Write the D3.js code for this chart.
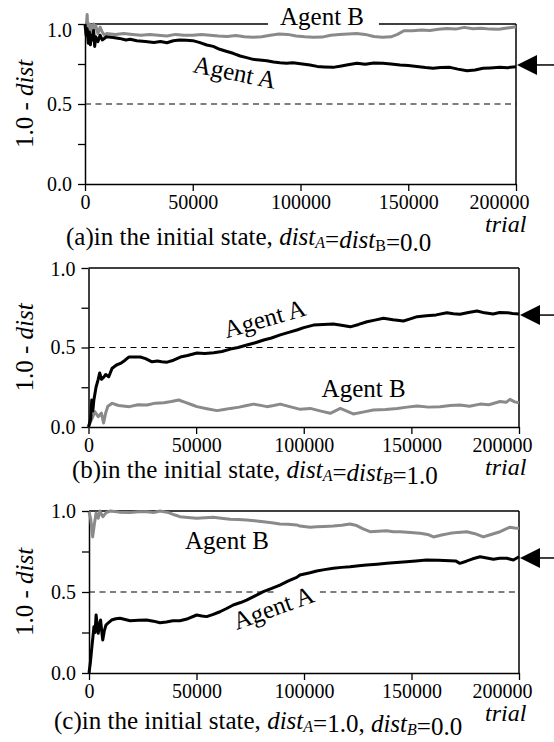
<!DOCTYPE html>
<html lang="en">
<head>
<meta charset="UTF-8">
<title>Agent distance over trials</title>
<script src="https://cdn.jsdelivr.net/npm/d3@7"></script>
<style>
  body { margin: 0; background: #fff; }
  svg { font-family: 'Liberation Serif', 'DejaVu Serif', serif; }
  svg text { font-family: 'Liberation Serif', 'DejaVu Serif', serif; fill: #000; }
</style>
</head>
<body>
<script>
// ---- data: [trial, 1.0 - dist] ----
const xTicks = [0, 50000, 100000, 150000, 200000]
const yTicks = [0, 0.25, 0.5, 0.75, 1.0]

const aAgentA = [[0,1.0],[500,0.93],[1000,0.97],[1500,0.88],[2000,0.95],[2500,0.87],[3000,0.93],[3500,0.90],[4000,0.96],[4500,0.86],[5000,0.92],[6000,0.89],[7000,0.93],[8000,0.90],[10000,0.92],[13000,0.915],[16000,0.91],[19000,0.9],[21000,0.905],[24000,0.895],[28000,0.89],[32000,0.885],[35000,0.89],[38000,0.883],[41000,0.895],[44000,0.90],[47000,0.898],[50000,0.896],[53000,0.885],[56500,0.869],[59500,0.86],[62500,0.842],[65500,0.83],[68700,0.817],[72000,0.8],[75000,0.79],[78000,0.779],[81000,0.775],[84400,0.77],[87500,0.762],[90500,0.758],[93500,0.755],[96500,0.758],[100000,0.752],[104400,0.744],[107700,0.735],[111000,0.732],[115100,0.729],[119000,0.738],[122000,0.745],[126200,0.755],[130000,0.748],[134000,0.756],[138300,0.754],[142000,0.75],[146200,0.744],[150000,0.74],[154000,0.735],[158000,0.728],[161500,0.723],[165000,0.728],[169400,0.729],[173000,0.718],[177300,0.708],[181000,0.712],[184700,0.723],[188000,0.725],[192600,0.729],[196000,0.727],[200000,0.733]]
const aAgentB = [[0,1.0],[500,0.97],[1000,1.06],[1300,0.96],[2000,1.0],[2500,0.94],[3000,0.99],[3500,0.95],[4000,1.0],[4500,0.97],[5000,0.99],[6000,0.94],[7000,0.98],[8000,0.95],[9000,0.93],[10000,0.94],[14000,0.935],[18000,0.94],[22000,0.935],[26000,0.93],[30000,0.935],[34000,0.93],[38000,0.925],[42000,0.935],[46000,0.93],[50000,0.93],[54000,0.935],[58000,0.93],[62000,0.925],[66000,0.922],[70000,0.928],[74000,0.92],[78000,0.917],[82000,0.92],[86000,0.93],[90000,0.9375],[94000,0.935],[98000,0.925],[102000,0.92],[106000,0.917],[110000,0.918],[114000,0.93],[118000,0.935],[122000,0.9375],[126000,0.94],[130000,0.935],[134000,0.922],[138000,0.917],[142000,0.92],[145000,0.935],[148000,0.958],[152000,0.958],[156000,0.962],[160000,0.96],[164000,0.967],[168000,0.972],[172000,0.968],[176000,0.979],[180000,0.97],[184000,0.973],[188000,0.968],[192000,0.967],[196000,0.975],[200000,0.983]]

const bAgentA = [[0,0],[1000,0.05],[1500,0.17],[2000,0.10],[2500,0.17],[3500,0.25],[4500,0.30],[5200,0.34],[6000,0.30],[7100,0.314],[8000,0.33],[9400,0.316],[11000,0.37],[13000,0.39],[14850,0.40],[17000,0.42],[18700,0.44],[21000,0.44],[24100,0.44],[26500,0.43],[29500,0.41],[32000,0.415],[34000,0.41],[36500,0.408],[39500,0.42],[42700,0.44],[46000,0.45],[50400,0.465],[54000,0.462],[58200,0.467],[62000,0.475],[65900,0.49],[69500,0.5],[73600,0.516],[77500,0.53],[81400,0.547],[85000,0.56],[89100,0.579],[93000,0.595],[96800,0.61],[100000,0.625],[104500,0.641],[109000,0.645],[113700,0.648],[117500,0.64],[121600,0.63],[125500,0.645],[129400,0.662],[133000,0.672],[137000,0.684],[141500,0.675],[146300,0.667],[149500,0.68],[152700,0.694],[157000,0.70],[161500,0.705],[166500,0.719],[169500,0.712],[172600,0.709],[176500,0.72],[180500,0.73],[184000,0.718],[188000,0.711],[191000,0.72],[194500,0.719],[197000,0.714],[200000,0.711]]
const bAgentB = [[0,0],[1500,0.05],[3000,0.096],[4500,0.065],[6000,0.088],[7000,0.025],[8000,0.09],[9000,0.13],[11000,0.149],[14000,0.135],[19000,0.128],[23000,0.14],[27200,0.138],[31000,0.15],[35000,0.153],[38500,0.16],[41900,0.17],[45000,0.155],[48000,0.14],[50400,0.128],[55000,0.115],[59700,0.103],[63000,0.11],[65900,0.117],[70000,0.125],[73500,0.135],[76700,0.144],[80000,0.136],[82900,0.128],[86000,0.135],[89100,0.144],[93000,0.13],[98400,0.111],[103000,0.117],[108000,0.1],[112300,0.086],[117000,0.117],[120000,0.1],[123000,0.082],[128000,0.095],[132300,0.107],[138000,0.11],[143400,0.117],[148000,0.125],[152700,0.132],[158000,0.125],[163300,0.128],[168000,0.135],[172600,0.138],[177000,0.13],[181900,0.144],[186000,0.14],[191200,0.16],[194000,0.155],[195800,0.174],[198000,0.158],[200000,0.153]]

const cAgentA = [[0,0],[600,0.06],[1200,0.142],[1800,0.22],[2300,0.286],[2800,0.25],[3300,0.358],[3800,0.30],[4300,0.245],[4900,0.30],[5400,0.327],[5900,0.26],[6400,0.204],[7100,0.26],[7900,0.296],[9000,0.31],[10500,0.327],[12500,0.335],[14400,0.338],[16800,0.33],[19100,0.323],[23000,0.326],[26800,0.327],[30000,0.32],[33000,0.31],[36000,0.315],[39000,0.322],[42300,0.323],[46000,0.335],[50100,0.358],[52500,0.352],[54700,0.348],[57500,0.36],[60900,0.378],[64000,0.398],[67100,0.42],[70500,0.435],[73300,0.45],[77000,0.475],[81100,0.502],[85000,0.522],[88800,0.543],[92500,0.567],[96600,0.59],[98100,0.605],[102800,0.619],[105900,0.63],[109500,0.638],[113600,0.646],[117500,0.652],[121400,0.656],[125500,0.662],[129100,0.667],[134000,0.672],[138500,0.677],[143000,0.682],[147700,0.687],[152000,0.692],[157000,0.698],[162500,0.696],[167900,0.693],[170500,0.692],[172500,0.677],[175500,0.69],[178500,0.705],[181900,0.718],[185000,0.71],[188100,0.702],[191000,0.708],[194300,0.708],[197400,0.698],[200000,0.718]]
const cAgentB = [[0,0.996],[800,0.95],[1700,0.84],[2500,0.92],[3300,0.987],[4000,0.97],[4300,0.955],[5000,1.0],[6000,0.975],[6500,0.965],[8000,0.99],[10000,1.0],[14000,0.993],[19000,0.99],[23000,0.995],[27000,0.996],[30000,0.99],[33000,1.0],[37000,0.99],[40000,0.975],[42300,0.965],[46000,0.96],[50100,0.955],[54000,0.958],[57800,0.961],[61500,0.955],[65600,0.949],[69500,0.947],[73300,0.944],[77000,0.94],[81100,0.934],[85000,0.928],[88800,0.92],[92500,0.918],[96600,0.914],[98100,0.907],[102800,0.9],[105900,0.903],[109500,0.905],[113600,0.907],[117500,0.912],[121400,0.92],[124500,0.91],[127500,0.89],[130700,0.872],[134500,0.875],[138500,0.878],[141500,0.872],[144700,0.872],[149500,0.868],[154000,0.862],[157500,0.855],[160200,0.84],[164000,0.852],[167900,0.862],[171500,0.868],[175700,0.872],[179500,0.86],[183400,0.84],[187000,0.855],[191200,0.872],[195800,0.9],[198000,0.895],[200000,0.893]]

// arrow marks on the right edge (1.0 - dist level)
const arrowValues = [0.744, 0.704, 0.71]

// ---- layout ----
const W = 554, H = 742
const FONT = "'Liberation Serif', 'DejaVu Serif', serif"
const panels = [
  { id: 'a', A: aAgentA, B: aAgentB, arrow: arrowValues[0],
    x0: 85, x1: 516, yTop: 24, yBot: 184, openTop: [84900, 136400], topLabelDy: 6,
    labA: { t: 49650, v: 0.70, rot: 11.6 }, labB: { t: 90500, v: 0.994, rot: 0 },
    dashGap: null, capX: 66, capY: 245,
    cap: ['(a)in the initial state, ', ['dist', 'A', true], '=', ['dist', 'B', false], '=0.0'] },
  { id: 'b', A: bAgentA, B: bAgentB, arrow: arrowValues[1],
    x0: 88.5, x1: 519, yTop: 268, yBot: 427, openTop: null, topLabelDy: 1,
    labA: { t: 64150, v: 0.558, rot: -16 }, labB: { t: 108300, v: 0.19, rot: 0 },
    dashGap: null, capX: 72, capY: 478,
    cap: ['(b)in the initial state, ', ['dist', 'A', true], '=', ['dist', 'B', true], '=1.0'] },
  { id: 'c', A: cAgentA, B: cAgentB, arrow: arrowValues[2],
    x0: 89, x1: 519, yTop: 511, yBot: 673, openTop: null, topLabelDy: 0,
    labA: { t: 68700, v: 0.265, rot: -20 }, labB: { t: 44650, v: 0.765, rot: 0 },
    dashGap: [87400, 107400], capX: 54, capY: 729,
    cap: ['(c)in the initial state, ', ['dist', 'A', true], '=1.0, ', ['dist', 'B', true], '=0.0'] }
]

const svg = d3.select('body').append('svg')
  .attr('width', W).attr('height', H)
  .attr('font-family', FONT)

panels.forEach(p => {
  const x = d3.scaleLinear().domain([0, 200000]).range([p.x0, p.x1])
  const y = d3.scaleLinear().domain([0, 1]).range([p.yBot, p.yTop])
  const g = svg.append('g').attr('class', 'panel-' + p.id)

  // dashed reference at 0.5
  const dashSegs = p.dashGap ? [[0, p.dashGap[0]], [p.dashGap[1], 200000]] : [[0, 200000]]
  dashSegs.forEach(s => {
    g.append('line')
      .attr('x1', x(s[0])).attr('x2', x(s[1]))
      .attr('y1', y(0.5)).attr('y2', y(0.5))
      .attr('stroke', '#000').attr('stroke-width', 1.1)
      .attr('stroke-dasharray', '6,4.5')
  })

  // frame: top and right edges
  const topSegs = p.openTop ? [[0, p.openTop[0]], [p.openTop[1], 200000]] : [[0, 200000]]
  topSegs.forEach(s => {
    g.append('line')
      .attr('x1', x(s[0])).attr('x2', x(s[1]))
      .attr('y1', y(1)).attr('y2', y(1))
      .attr('stroke', '#000').attr('stroke-width', 1.5)
  })
  g.append('line')
    .attr('x1', x(200000)).attr('x2', x(200000))
    .attr('y1', y(1)).attr('y2', y(0))
    .attr('stroke', '#000').attr('stroke-width', 1.5)

  // axes
  const xAxis = g.append('g')
    .attr('transform', `translate(0,${p.yBot})`)
    .call(d3.axisBottom(x).tickValues(xTicks).tickSize(7).tickSizeOuter(0).tickPadding(4)
      .tickFormat(d3.format('d')))
  const yAxis = g.append('g')
    .attr('transform', `translate(${p.x0},0)`)
    .call(d3.axisLeft(y).tickValues(yTicks).tickSize(7).tickSizeOuter(0).tickPadding(6)
      .tickFormat(d => (d * 2) % 1 === 0 ? d.toFixed(1) : ''))
  ;[xAxis, yAxis].forEach(ax => {
    ax.attr('font-family', FONT).attr('font-size', 20)
    ax.select('.domain').attr('stroke-width', 1.5)
    ax.selectAll('.tick line').attr('stroke-width', 1.3)
  })
  // last x label sits pulled in from the edge, top y label nudged down
  xAxis.selectAll('.tick text').filter(d => d === 200000).attr('dx', -17)
  yAxis.selectAll('.tick text').filter(d => d === 1).attr('dy', (0.32 * 20 + p.topLabelDy) + 'px')

  // series
  const line = d3.line().x(d => x(d[0])).y(d => y(d[1]))
  g.append('path').datum(p.B).attr('d', line)
    .attr('fill', 'none').attr('stroke', '#8a8a8a').attr('stroke-width', 3)
    .attr('stroke-linejoin', 'round')
  g.append('path').datum(p.A).attr('d', line)
    .attr('fill', 'none').attr('stroke', '#000').attr('stroke-width', 3)
    .attr('stroke-linejoin', 'round')

  // arrow at the right edge
  const ay = y(p.arrow), ax0 = x(200000) + 1
  g.append('path')
    .attr('d', `M${ax0},${ay}L${ax0 + 20},${ay - 10}L${ax0 + 20},${ay + 10}Z`)
    .attr('fill', '#000')
  g.append('line')
    .attr('x1', ax0 + 20).attr('x2', W).attr('y1', ay).attr('y2', ay)
    .attr('stroke', '#000').attr('stroke-width', 1.5)

  // agent labels
  ;[['Agent A', p.labA], ['Agent B', p.labB]].forEach(([txt, l]) => {
    g.append('text')
      .attr('transform', `translate(${x(l.t)},${y(l.v)}) rotate(${l.rot})`)
      .attr('font-size', 25)
      .text(txt)
  })

  // y title
  const yt = g.append('text')
    .attr('transform', `translate(33,${y(0.5)}) rotate(-90)`)
    .attr('text-anchor', 'middle')
    .attr('font-size', 25)
  yt.append('tspan').text('1.0 - ')
  yt.append('tspan').attr('font-style', 'italic').text('dist')

  // x title
  g.append('text')
    .attr('x', 485).attr('y', p.yBot + 48)
    .attr('font-size', 24).attr('font-style', 'italic')
    .text('trial')

  // caption
  const cap = g.append('text')
    .attr('x', p.capX).attr('y', p.capY)
    .attr('font-size', 25)
  p.cap.forEach(part => {
    if (typeof part === 'string') {
      cap.append('tspan').text(part)
    } else {
      cap.append('tspan').attr('font-style', 'italic').text(part[0])
      cap.append('tspan').attr('font-size', 16).attr('dy', 3)
        .attr('font-style', part[2] ? 'italic' : 'normal').text(part[1])
      cap.append('tspan').attr('dy', -3).text('')
    }
  })
})
</script>
</body>
</html>
